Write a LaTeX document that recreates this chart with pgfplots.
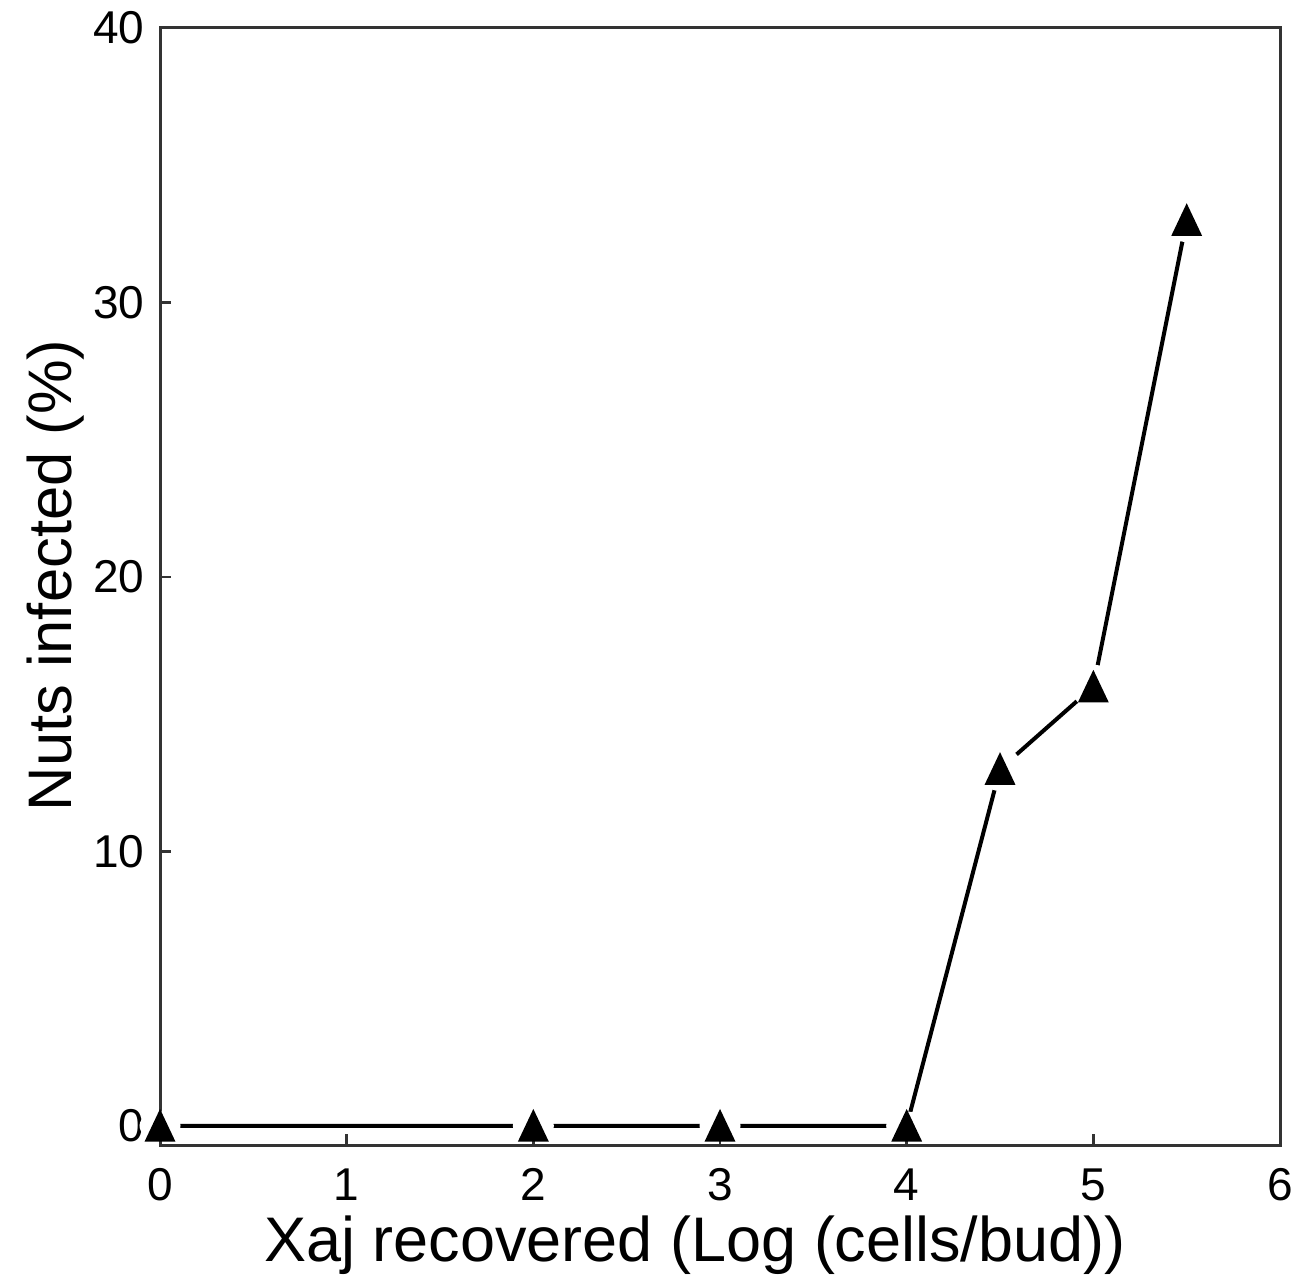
\documentclass[border=0pt]{standalone}
\usepackage{pgfplots}
\pgfplotsset{compat=1.18}
\usepackage{fontspec}
\setmainfont{Liberation Sans}
\usetikzlibrary{calc}
\begin{document}
\begin{tikzpicture}
\begin{axis}[
  name=ax,
  scale only axis,
  width=224pt, height=223.4pt,
  xmin=0, xmax=6, ymin=-0.7, ymax=40,
  xtick={0,1,2,3,4,5,6},
  ytick={0,10,20,30,40},
  tick pos=left,
  tick align=inside,
  major tick length=2.2pt,
  axis line style={line width=0.6pt, black!80},
  tick style={line width=0.5pt, black!80},
  /pgf/number format/assume math mode=true,
  ticklabel style={font=\fontsize{9.2}{10}\selectfont},
  xticklabel style={yshift=-1.2pt},
  yticklabel style={xshift=0.4pt},
  xlabel={Xaj recovered (Log (cells/bud))},
  ylabel={Nuts infected (\%)},
  label style={font=\fontsize{12.6}{14}\selectfont},
  xlabel style={yshift=4pt, xshift=-5pt},
  ylabel style={yshift=-5pt, xshift=2.2pt, font=\fontsize{12.3}{14}\selectfont},
  clip=false,
]
\addplot[black, line width=0.8pt] coordinates {(0,0) (2,0) (3,0) (4,0) (4.5,13) (5,16) (5.5,33)};
\addplot[only marks, mark=*, mark size=3.9pt, mark options={draw=white, fill=white, yscale=0.68}] coordinates {(0,0) (2,0) (3,0) (4,0)};
\addplot[only marks, mark=*, mark size=4.2pt, mark options={draw=white, fill=white}] coordinates {(4.5,13) (5,16) (5.5,33)};
\addplot[only marks, mark=triangle*, mark size=3.2pt, mark options={draw=black, fill=black, yshift=-1pt, yscale=1.22}] coordinates {(0,0) (2,0) (3,0) (4,0) (4.5,13) (5,16) (5.5,33)};
\end{axis}
\pgfresetboundingbox
\path[use as bounding box] ($(ax.south west)+(-32pt,-26.2pt)$) rectangle ($(ax.north east)+(3.4pt,5.6pt)$);
\end{tikzpicture}
\end{document}
